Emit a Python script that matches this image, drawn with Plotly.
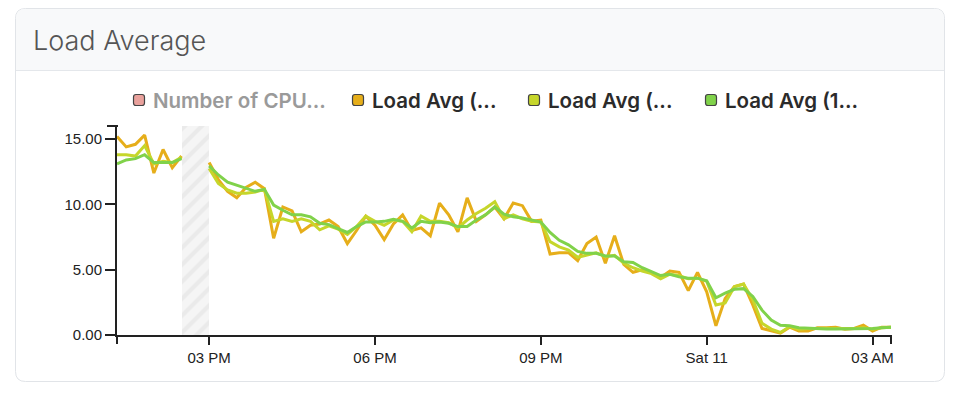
import plotly.graph_objects as go
import pandas as pd

# ---------------- data ----------------
times = pd.date_range("2020-01-10 13:20", "2020-01-11 03:20", freq="10min")

load_1m = [15.2, 14.4, 14.6, 15.3, 12.4, 14.2, 12.8, 13.7, None, None,
           13.2, 11.9, 11.0, 10.5, 11.3, 11.7, 11.2, 7.4, 9.8, 9.5,
           7.9, 8.4, 8.5, 8.8, 8.3, 7.0, 8.0, 9.1, 8.4, 7.3,
           8.5, 9.2, 8.0, 8.2, 7.6, 10.1, 9.2, 7.9, 10.5, 8.7,
           9.2, 9.8, 8.9, 10.1, 9.9, 8.7, 8.8, 6.2, 6.3, 6.3,
           5.7, 7.0, 7.5, 5.5, 7.6, 5.4, 4.8, 5.0, 4.8, 4.4,
           4.9, 4.8, 3.4, 4.8, 3.3, 0.7, 2.8, 3.7, 3.9, 2.3,
           0.5, 0.3, 0.15, 0.6, 0.3, 0.3, 0.55, 0.55, 0.6, 0.45,
           0.5, 0.75, 0.3, 0.6, 0.6]

load_5m = [13.8, 13.8, 13.7, 14.5, 13.1, 13.3, 13.2, 13.6, None, None,
           12.75, 11.6, 11.1, 10.85, 10.85, 10.95, 11.15, 8.7, 8.9, 8.7,
           8.9, 8.7, 8.05, 8.35, 8.1, 7.7, 8.3, 9.1, 8.7, 8.4,
           8.8, 8.7, 7.9, 9.1, 8.7, 8.7, 8.6, 8.2, 8.8, 9.3,
           9.7, 10.2, 8.9, 9.2, 8.9, 8.7, 8.65, 7.15, 6.75, 6.5,
           5.95, 6.15, 6.3, 6.0, 6.1, 5.5, 5.15, 4.9, 4.7, 4.3,
           4.65, 4.55, 4.3, 4.35, 4.1, 2.3, 2.45, 3.7, 3.9, 2.7,
           0.9, 0.45, 0.2, 0.65, 0.45, 0.5, 0.5, 0.5, 0.5, 0.45,
           0.5, 0.55, 0.45, 0.55, 0.6]

load_15m = [13.1, 13.4, 13.5, 13.8, 13.2, 13.2, 13.2, 13.5, None, None,
            12.95, 12.25, 11.7, 11.45, 11.2, 11.0, 11.15, 9.95, 9.55, 9.2,
            9.2, 9.05, 8.55, 8.45, 8.15, 7.85, 8.3, 8.65, 8.65, 8.7,
            8.85, 8.7, 8.2, 8.7, 8.6, 8.65, 8.55, 8.3, 8.3, 8.8,
            9.2, 9.8, 9.25, 9.05, 8.95, 8.8, 8.65, 7.85, 7.25, 6.9,
            6.4, 6.25, 6.25, 6.05, 6.05, 5.6, 5.55, 5.15, 4.85, 4.55,
            4.65, 4.45, 4.35, 4.35, 4.15, 2.85, 3.2, 3.5, 3.55, 2.95,
            1.9, 1.15, 0.75, 0.7, 0.55, 0.5, 0.5, 0.45, 0.45, 0.45,
            0.45, 0.5, 0.5, 0.55, 0.6]

gap_start = "2020-01-10 14:30"
gap_end = "2020-01-10 15:00"

x_tick_vals = ["2020-01-10 15:00", "2020-01-10 18:00", "2020-01-10 21:00",
               "2020-01-11 00:00", "2020-01-11 03:00"]
x_tick_text = ["03 PM", "06 PM", "09 PM", "Sat 11", "03 AM"]
y_tick_vals = [0, 5, 10, 15]
y_max = 16

legend_names = ["Number of CPU...", "Load Avg (...", "Load Avg (...", "Load Avg (1..."]
legend_colors = ["#e9a19c", "#e6ae1a", "#c6d62b", "#80d24a"]
legend_text_colors = ["#9a9a9a", "#2b2b2b", "#2b2b2b", "#2b2b2b"]
series = [load_1m, load_5m, load_15m]
series_colors = legend_colors[1:]

title = "Load Average"

# ---------------- layout helpers (window pixel -> paper) ----------------
OFF = 8                      # page body margin
W, H = 960 - OFF, 398 - OFF  # figure size
L, R, T, B = 117, 891, 126, 335   # plot area in window pixels


def px(x):
    return (x - L) / (R - L)


def py(y):
    return (B - y) / (B - T)


def rounded_path(x0, y0, x1, y1, r, top_only=False):
    p = [f"M {px(x0 + r)},{py(y0)}",
         f"L {px(x1 - r)},{py(y0)}",
         f"Q {px(x1)},{py(y0)} {px(x1)},{py(y0 + r)}"]
    if top_only:
        p += [f"L {px(x1)},{py(y1)}", f"L {px(x0)},{py(y1)}"]
    else:
        p += [f"L {px(x1)},{py(y1 - r)}",
              f"Q {px(x1)},{py(y1)} {px(x1 - r)},{py(y1)}",
              f"L {px(x0 + r)},{py(y1)}",
              f"Q {px(x0)},{py(y1)} {px(x0)},{py(y1 - r)}"]
    p += [f"L {px(x0)},{py(y0 + r)}",
          f"Q {px(x0)},{py(y0)} {px(x0 + r)},{py(y0)}", "Z"]
    return " ".join(p)


fig = go.Figure()

# hatched gap region
g0, g1 = pd.Timestamp(gap_start), pd.Timestamp(gap_end)
fig.add_trace(go.Bar(
    x=[g0 + (g1 - g0) / 2], y=[y_max], width=[(g1 - g0).total_seconds() * 1000],
    marker=dict(color="#f5f5f5", line_width=0,
                pattern=dict(shape="/", fgcolor="#e0e0e0", bgcolor="#f5f5f5",
                             size=12, solidity=0.35)),
    hoverinfo="skip", showlegend=False))

for vals, col in zip(series, series_colors):
    fig.add_trace(go.Scatter(x=times, y=vals, mode="lines",
                             line=dict(color=col, width=3),
                             connectgaps=False, showlegend=False))

shapes = []
# card
shapes.append(dict(type="path", xref="paper", yref="paper",
                   path=rounded_path(15.5, 8.5, 944.5, 381.5, 10),
                   fillcolor="#ffffff", line=dict(color="#e1e4e8", width=1), layer="below"))
shapes.append(dict(type="path", xref="paper", yref="paper",
                   path=rounded_path(16, 9, 944, 70, 9.5, top_only=True),
                   fillcolor="#f8f9fa", line=dict(width=0), layer="below"))
shapes.append(dict(type="line", xref="paper", yref="paper",
                   x0=px(16), x1=px(944), y0=py(70.5), y1=py(70.5),
                   line=dict(color="#e4e7eb", width=1), layer="below"))
# domain end ticks
shapes.append(dict(type="line", xref="paper", yref="paper", x0=0, x1=0,
                   y0=py(335), y1=py(344), line=dict(color="#222", width=2)))
shapes.append(dict(type="line", xref="paper", yref="paper", x0=1, x1=1,
                   y0=py(335), y1=py(344), line=dict(color="#222", width=2)))
shapes.append(dict(type="line", xref="paper", yref="paper", x0=px(107), x1=px(118),
                   y0=1, y1=1, line=dict(color="#222", width=2)))

annotations = [dict(text=title, xref="paper", yref="paper", x=px(31), y=py(40),
                    xanchor="left", yanchor="middle", showarrow=False,
                    font=dict(family="Inter", size=27, color="#555555", weight=300))]

# manual legend
marker_x = [139, 358, 534, 711]
for name, mc, tc, mx in zip(legend_names, legend_colors, legend_text_colors, marker_x):
    s = 5.5
    shapes.append(dict(type="path", xref="paper", yref="paper",
                       path=rounded_path(mx - s, 100 - s, mx + s, 100 + s, 2.5),
                       fillcolor=mc, line=dict(color="#444", width=1.2), layer="above"))
    annotations.append(dict(text=name, xref="paper", yref="paper", x=px(mx + 12), y=py(100),
                            xanchor="left", yanchor="middle", showarrow=False,
                            font=dict(family="Inter", size=20.5, color=tc, weight=600)))

fig.update_layout(
    width=W, height=H,
    margin=dict(l=L - OFF, r=W - (R - OFF), t=T - OFF, b=H - (B - OFF), pad=0),
    paper_bgcolor="#ffffff", plot_bgcolor="rgba(0,0,0,0)",
    showlegend=False, shapes=shapes, annotations=annotations,
    xaxis=dict(range=[times[0], times[-1]], tickvals=x_tick_vals, ticktext=x_tick_text,
               ticks="outside", ticklen=8, tickwidth=2, tickcolor="#222",
               showline=True, linewidth=2, linecolor="#222", showgrid=False, zeroline=False,
               tickfont=dict(family="Liberation Sans", size=15, color="#222")),
    yaxis=dict(range=[0, y_max], tickvals=y_tick_vals, tickformat=".2f",
               ticks="outside", ticklen=10, tickwidth=2, tickcolor="#222",
               showline=True, linewidth=2, linecolor="#222", showgrid=False, zeroline=False,
               tickfont=dict(family="Liberation Sans", size=15, color="#222")),
    bargap=0,
)

fig.write_html("out.html")
